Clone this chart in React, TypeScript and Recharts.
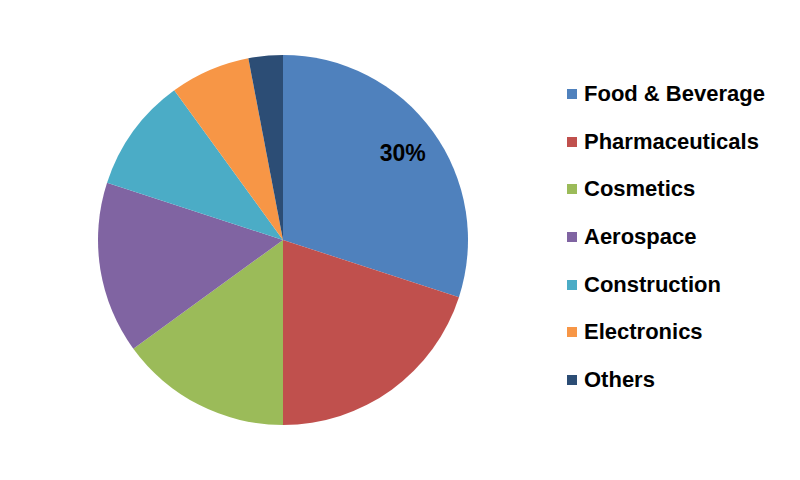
import React from "react"
import { PieChart, Pie, Cell, Legend } from "recharts"

// sector names and shares (%), clockwise from 12 o'clock
const sectors = ["Food & Beverage", "Pharmaceuticals", "Cosmetics", "Aerospace", "Construction", "Electronics", "Others"]
const shares = [30, 20, 15, 15, 10, 7, 3]
const COLORS = ["#4F81BD", "#C0504D", "#9BBB59", "#8064A2", "#4BACC6", "#F79646", "#2C4D75"]

const data = sectors.map((name, i) => ({ name, value: shares[i] }))

const RADIAN = Math.PI / 180

function renderLabel(props: any) {
  const { cx, cy, midAngle, outerRadius, index, value } = props
  // only the largest slice carries a label
  if (index !== 0) return null
  const r = outerRadius * 0.8
  const x = cx + r * Math.cos(-midAngle * RADIAN)
  const y = cy + r * Math.sin(-midAngle * RADIAN)
  return (
    <text
      x={x}
      y={y}
      fill="#000"
      textAnchor="middle"
      dominantBaseline="central"
      style={{ fontFamily: "Liberation Sans, Arial, sans-serif", fontWeight: "bold", fontSize: 23 }}
    >
      {`${value}%`}
    </text>
  )
}

function LegendList() {
  return (
    <div>
      {sectors.map((name, i) => (
        <div key={name} style={{ display: "flex", alignItems: "center", height: 47.7 }}>
          <span style={{ width: 10, height: 10, background: COLORS[i], marginRight: 7, display: "inline-block" }} />
          <span
            style={{
              fontFamily: "Liberation Sans, Arial, sans-serif",
              fontWeight: "bold",
              fontSize: 22,
              color: "#000",
            }}
          >
            {name}
          </span>
        </div>
      ))}
    </div>
  )
}

export default function App() {
  return (
    <div style={{ position: "absolute", left: 0, top: 0, width: 800, height: 480, background: "#fff" }}>
      <PieChart width={800} height={480}>
        <Pie
          data={data}
          dataKey="value"
          nameKey="name"
          cx={278}
          cy={235}
          outerRadius={185}
          startAngle={90}
          endAngle={-270}
          stroke="none"
          labelLine={false}
          label={renderLabel}
          isAnimationActive={false}
        >
          {data.map((entry, i) => (
            <Cell key={`cell-${i}`} fill={COLORS[i]} />
          ))}
        </Pie>
        <Legend content={() => <LegendList />} wrapperStyle={{ left: 567, top: 70, width: 230 }} />
      </PieChart>
    </div>
  )
}
